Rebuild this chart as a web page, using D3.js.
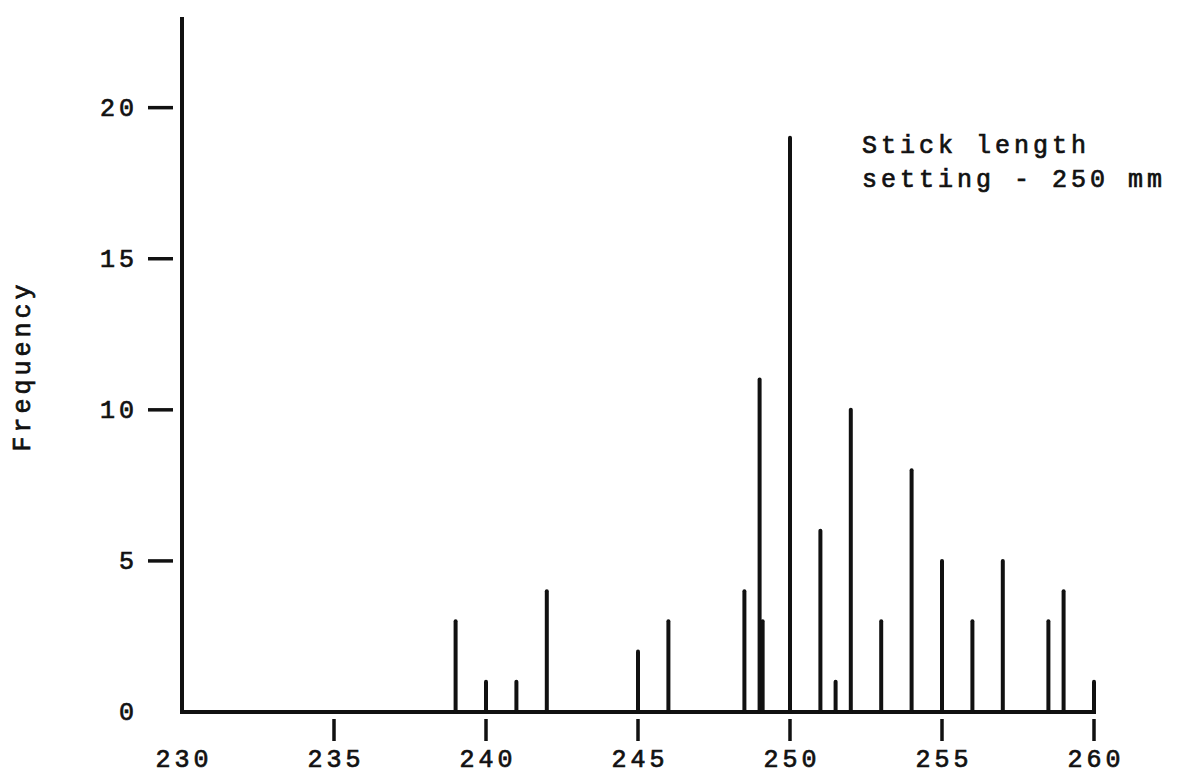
<!DOCTYPE html>
<html>
<head>
<meta charset="utf-8">
<script src="https://cdn.jsdelivr.net/npm/d3@7"></script>
<style>
  body { margin: 0; background: #fff; }
  text { font-family: "Liberation Mono", "DejaVu Sans Mono", monospace; fill: #111; }
</style>
</head>
<body>
<div id="chart"></div>
<script>
// stick lengths (mm) and how often each one came up
const lengths = [239, 240, 241, 242, 245, 246, 248.5, 249, 249.1, 250, 251, 251.5, 252, 253, 254, 255, 256, 257, 258.5, 259, 260]
const freq    = [3,   1,   1,   4,   2,   3,   4,     11,  3,     19,  6,   1,     10,  3,   8,   5,   3,   5,   3,     4,   1]
const xTicks = [230, 235, 240, 245, 250, 255, 260]
const yTicks = [0, 5, 10, 15, 20]

const width = 1177, height = 774
const ink = '#111'

const svg = d3.select('#chart').append('svg')
  .attr('width', width)
  .attr('height', height)

const x = d3.scaleLinear().domain([230, 260]).range([182, 1094])
const y = d3.scaleLinear().domain([0, 23]).range([712, 17])

// text style shared by every label (typewriter look)
const typed = sel => sel
  .style('font-size', '25px')
  .style('letter-spacing', '4px')
  .style('stroke', ink)
  .style('stroke-width', '0.7px')

// axes lines
svg.append('line')
  .attr('x1', x(230)).attr('x2', x(230))
  .attr('y1', y(0)).attr('y2', y(23))
  .attr('stroke', ink).attr('stroke-width', 4)
svg.append('line')
  .attr('x1', x(230) - 2).attr('x2', x(260) + 2)
  .attr('y1', y(0)).attr('y2', y(0))
  .attr('stroke', ink).attr('stroke-width', 4)

// y ticks sit a little off the axis
svg.selectAll('.ytick')
  .data(yTicks.filter(d => d > 0))
  .enter().append('line')
  .attr('class', 'ytick')
  .attr('x1', x(230) - 34).attr('x2', x(230) - 9)
  .attr('y1', d => y(d)).attr('y2', d => y(d))
  .attr('stroke', ink).attr('stroke-width', 3.5)

svg.selectAll('.ylab')
  .data(yTicks)
  .enter().append('text')
  .attr('class', 'ylab')
  .attr('x', 138)
  .attr('y', d => y(d) + 8)
  .attr('text-anchor', 'end')
  .call(typed)
  .text(d => d)

// x ticks hang below the axis
svg.selectAll('.xtick')
  .data(xTicks.filter(d => d > 230))
  .enter().append('line')
  .attr('class', 'xtick')
  .attr('x1', d => x(d)).attr('x2', d => x(d))
  .attr('y1', y(0) + 7).attr('y2', y(0) + 29)
  .attr('stroke', ink).attr('stroke-width', 3.5)

svg.selectAll('.xlab')
  .data(xTicks)
  .enter().append('text')
  .attr('class', 'xlab')
  .attr('x', d => x(d) + 2)
  .attr('y', 767)
  .attr('text-anchor', 'middle')
  .call(typed)
  .text(d => d)

// the sticks
svg.selectAll('.stick')
  .data(lengths.map((l, i) => ({ l: l, f: freq[i] })))
  .enter().append('line')
  .attr('class', 'stick')
  .attr('x1', d => x(d.l)).attr('x2', d => x(d.l))
  .attr('y1', y(0)).attr('y2', d => y(d.f))
  .attr('stroke', ink).attr('stroke-width', 4)
  .attr('stroke-linecap', 'round')

// y label
svg.append('text')
  .attr('transform', 'translate(30,366) rotate(-90)')
  .attr('text-anchor', 'middle')
  .call(typed)
  .text('Frequency')

// note
const note = svg.append('text').call(typed)
note.append('tspan').attr('x', 862).attr('y', 153).text('Stick length')
note.append('tspan').attr('x', 862).attr('y', 187).text('setting - 250 mm')
</script>
</body>
</html>
